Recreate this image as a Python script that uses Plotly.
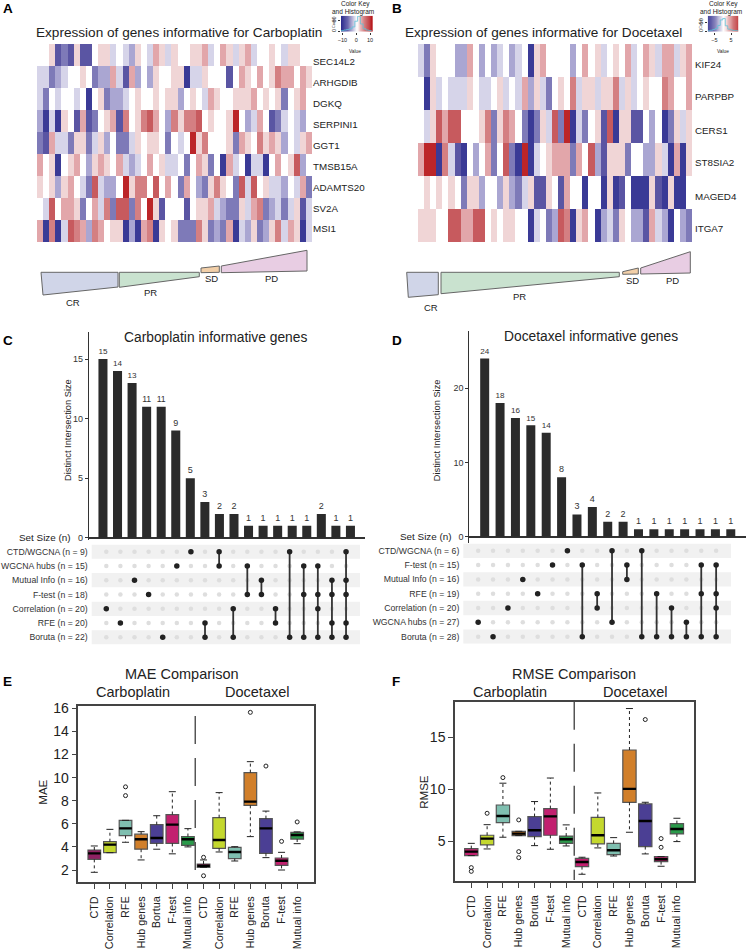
import plotly.graph_objects as go

W, H = 747, 951
FONT = "Liberation Sans"

# ---------- A/B heatmaps (cell levels) ----------
genes_a = ["SEC14L2", "ARHGDIB", "DGKQ", "SERPINI1", "GGT1", "TMSB15A", "ADAMTS20", "SV2A", "MSI1"]
genes_b = ["KIF24", "PARPBP", "CERS1", "ST8SIA2", "MAGED4", "ITGA7"]
sec14l2 = [0,0,1,-4,-3,-4,1,-4,-4,0,1,1,-1,0,-1,-2,1,0,-1,2,1,-1,1,0,0,1,1,2,-1,0,2,1,-1,1,2,-1,0,0,1,0,-1,1,1,0,0]
arhgdib = [-1,-1,-3,-2,-1,0,0,1,0,-3,-2,-2,2,-1,-4,2,-2,0,-2,1,0,0,1,1,-5,-1,-1,1,0,0,0,-4,0,2,1,0,2,0,1,3,2,2,0,2,1]
dgkq = [-1,-3,0,-1,0,0,-1,0,-5,0,1,-3,-2,-2,-1,0,1,0,0,1,0,1,1,-2,0,1,0,-1,2,1,0,0,1,1,1,2,0,1,0,1,-3,0,1,2,0]
serpini1 = [-2,-5,-1,-5,1,0,-4,2,-4,-3,0,1,2,-4,3,0,1,3,4,2,0,-2,3,1,3,3,4,0,1,0,0,1,5,0,-2,-1,2,0,-4,-3,-1,0,-1,-2,0]
ggt1 = [-3,-4,2,-1,-1,-3,1,1,-3,-1,1,-2,0,-3,-3,-1,1,0,1,1,0,-3,0,-1,0,5,1,3,0,0,0,1,-3,2,1,0,3,1,2,1,-2,0,-1,1,2]
tmsb15a = [2,0,1,-5,0,1,2,0,-2,1,2,1,0,2,-1,-2,-1,0,2,0,1,-1,-1,0,-3,0,2,1,-3,0,-5,2,-1,0,-5,-1,-1,-5,0,2,0,1,4,-2,0]
adamts20 = [1,0,1,-2,1,2,0,-1,-3,4,-1,-2,-2,0,5,1,3,3,0,4,0,2,0,-3,2,0,-2,-3,1,3,1,0,-3,4,-1,4,0,1,-1,-1,-2,0,-1,2,-3]
sv2a = [0,-1,4,0,2,2,1,-3,0,2,-1,3,-3,4,4,-3,3,0,5,1,-4,0,0,0,-4,0,1,1,2,-1,-2,-3,-3,1,-1,2,3,-3,-2,-1,-3,-1,1,-4,-1]
msi1 = [2,-5,3,-5,-1,4,3,2,-2,3,2,0,1,1,-5,-2,-5,2,3,-5,1,0,1,-3,-3,-3,3,1,-3,-2,-3,2,-5,-1,-2,1,-3,-2,1,3,-1,2,1,-5,-1]
kif24 = [-1,-3,1,0,0,0,-2,-2,2,0,-2,0,-2,-1,0,-2,-1,0,-5,1,2,0,0,0,0,-2,0,2,0,1,-1,0,1,0,2,-1,0,2,1,-1,2,2,-1,1,2]
parpbp = [0,-5,1,-1,0,-1,-1,-1,1,0,-1,-1,0,1,-1,0,-1,2,-2,1,-1,-3,0,1,0,3,-1,1,1,-1,1,1,3,-1,1,-1,0,1,0,0,3,2,0,0,2]
cers1 = [0,-1,1,4,2,4,4,0,0,0,1,3,-3,1,3,2,0,-3,-5,-3,1,-1,4,-3,5,-5,-1,-3,0,1,-4,4,-5,1,1,-4,-4,0,-2,0,-5,-3,1,-1,1]
st8sia2 = [2,5,5,-5,3,-1,-4,-5,0,-2,0,2,-3,0,4,-3,-5,5,-5,-1,0,1,2,2,2,-3,2,0,4,-2,-4,1,1,1,-3,0,0,-2,-2,1,-1,-5,2,-5,1]
maged4 = [0,1,0,1,0,1,0,-3,1,1,-2,0,0,-2,1,-2,-3,-1,1,-4,-4,1,0,-4,2,0,0,-5,0,0,-5,1,-5,-4,0,-5,-5,-5,1,-4,-5,1,-5,-5,0]
itga7 = [1,1,1,0,0,4,4,2,2,4,4,0,1,0,1,1,0,0,-5,-1,0,-3,-2,4,3,-5,1,2,0,-5,-2,-1,-3,1,0,-2,-2,-4,2,-1,-2,-5,0,-2,-3]
matrix_a = [sec14l2, arhgdib, dgkq, serpini1, ggt1, tmsb15a, adamts20, sv2a, msi1]
matrix_b = [kif24, parpbp, cers1, st8sia2, maged4, itga7]
for row in matrix_a + matrix_b:
    assert len(row) == 45, len(row)
level_colors = ["#3a3a96", "#5a55a3", "#7e7ab8", "#aaa6d2", "#d6d4e9", "#ffffff",
                "#f0d5d6", "#e2a6aa", "#d47f82", "#c75a5e", "#bc2528"]

# colour keys
key_a_x = [-11, -9, -7, -5, -3, -1, 1, 3, 5, 7, 9, 11]
key_a_counts = [4, 7, 10, 14, 24, 55, 82, 40, 14, 7, 4, 2]
key_b_x = [-9, -7.5, -6, -4.5, -3, -1.5, 0, 1.5, 3, 4.5, 6, 7.5, 9]
key_b_counts = [3, 6, 10, 16, 32, 62, 70, 30, 12, 8, 5, 4, 6]
key_stops = [[0, "#2e2e8f"], [0.25, "#7e7ab8"], [0.5, "#ffffff"], [0.75, "#d47f82"], [1, "#b81c20"]]

# response wedges (x, y pairs on the page scale)
wedge_colors = ["#d0d5e8", "#c9e2cf", "#f2cfa8", "#e8cde3"]
wedge_a_x = [[41, 118, 118, 43], [119.3, 199.3, 199.3, 119.3], [201, 219.3, 219.3, 201], [221.3, 307, 307, 221.3]]
wedge_a_y = [[272.3, 272.3, 287, 295], [272.3, 272.3, 276.7, 287.3], [268, 266, 272.3, 272.7], [266, 250.3, 271, 272.7]]
wedge_b_x = [[406.7, 438.3, 438.3, 408.3], [441, 619.3, 619.3, 441], [622.7, 638.3, 638.3, 622.7], [640.7, 690.3, 690.3, 640.7]]
wedge_b_y = [[272.3, 272.3, 294.7, 297.3], [272.3, 272.3, 276.7, 293.7], [271.7, 268, 274, 274.3], [268, 251.7, 273, 274]]

# ---------- C/D upset ----------
sets_c = ["CTD/WGCNA (n = 9)", "WGCNA hubs (n = 15)", "Mutual Info (n = 16)", "F-test (n = 18)",
          "Correlation (n = 20)", "RFE (n = 20)", "Boruta (n = 22)"]
bars_c = [15, 14, 13, 11, 11, 9, 5, 3, 2, 2, 1, 1, 1, 1, 1, 2, 1, 1]
members_c = [[4], [5], [2], [3], [6], [1], [0], [5, 6], [0, 1], [4, 6], [1, 3], [2, 3], [4, 5], [0, 6],
             [1, 3, 6], [1, 3, 4, 6], [2, 3, 5, 6], [0, 2, 3, 5, 6]]
sets_d = ["CTD/WGCNA (n = 6)", "F-test (n = 15)", "Mutual Info (n = 16)", "RFE (n = 19)",
          "Correlation (n = 20)", "WGCNA hubs (n = 27)", "Boruta (n = 28)"]
bars_d = [24, 18, 16, 15, 14, 8, 3, 4, 2, 2, 1, 1, 1, 1, 1, 1, 1]
members_d = [[5], [6], [4], [2], [3], [1], [0], [1, 6], [3, 4], [0, 5], [1, 2], [0, 6], [3, 6], [4, 6],
             [5, 6], [1, 3, 6], [1, 3, 4, 6]]

# ---------- E/F boxes ----------
labels_e = ["CTD", "Correlation", "RFE", "Hub genes", "Bortua", "F-test", "Mutual info",
            "CTD", "Correlation", "RFE", "Hub genes", "Boruta", "F-test", "Mutual info"]
labels_f = ["CTD", "Correlation", "RFE", "Hub genes", "Boruta", "F-test", "Mutual info",
            "CTD", "Correlation", "RFE", "Hub genes", "Boruta", "F-test", "Mutual info"]
colors_e = ["#8f2163", "#c4d82e", "#7fbfb0", "#d17f2a", "#4b3f94", "#c2206f", "#2a9a4a",
            "#c2206f", "#c4d82e", "#7fbfb0", "#d17f2a", "#4b3f94", "#c2206f", "#2a9a4a"]
colors_f = ["#c2206f", "#c4d82e", "#7fbfb0", "#d17f2a", "#4b3f94", "#c2206f", "#2a9a4a",
            "#c2206f", "#c4d82e", "#7fbfb0", "#d17f2a", "#4b3f94", "#c2206f", "#2a9a4a"]
e_lo = [1.8, 3.5, 4.4, 2.87, 3.8, 3.4, 4.0, 2.23, 3.56, 2.78, 4.89, 3.07, 2.0, 4.28]
e_q1 = [2.92, 3.5, 4.97, 3.8, 4.3, 4.3, 4.14, 2.23, 3.88, 2.98, 7.6, 3.44, 2.4, 4.68]
e_med = [3.44, 4.2, 5.6, 4.66, 4.77, 5.93, 4.66, 2.37, 4.6, 3.56, 7.92, 5.6, 2.8, 5.03]
e_q3 = [3.73, 4.45, 6.3, 5.1, 5.93, 6.8, 4.9, 2.52, 6.53, 3.96, 10.43, 6.45, 3.04, 5.26]
e_hi = [4.08, 5.52, 6.3, 5.32, 6.7, 8.78, 5.58, 2.87, 8.7, 4.02, 11.38, 7.1, 3.53, 5.3]
e_out_x = [2, 2, 7, 7, 10, 11, 12, 13]
e_out_y = [9.2, 8.44, 3.1, 1.5, 15.65, 11.0, 4.48, 6.16]
f_lo = [3.62, 4.26, 5.39, 5.55, 4.58, 4.23, 4.55, 1.82, 4.36, 3.58, 5.87, 3.78, 2.59, 4.97]
f_q1 = [3.62, 4.65, 6.8, 5.55, 5.45, 5.58, 4.8, 2.56, 4.74, 3.71, 8.76, 4.49, 3.04, 5.71]
f_med = [4.0, 5.26, 7.44, 5.74, 6.06, 7.4, 5.2, 3.0, 5.58, 4.13, 10.05, 6.96, 3.26, 6.19]
f_q3 = [4.29, 5.58, 8.5, 5.96, 7.38, 8.15, 5.5, 3.36, 7.3, 4.8, 13.8, 8.6, 3.52, 6.7]
f_hi = [4.8, 6.6, 10.6, 5.96, 8.83, 11.1, 6.58, 3.46, 9.66, 5.35, 17.8, 8.76, 3.52, 7.22]
f_out_x = [0, 0, 1, 2, 3, 3, 3, 11, 12, 12]
f_out_y = [2.46, 2.1, 7.7, 11.14, 7.06, 4.0, 3.42, 16.74, 5.26, 4.42]

gene_y_a = [61.7, 82.7, 103.7, 124.3, 145.3, 166, 187, 208, 228.7]
gene_y_b = [64, 96.7, 130, 162.7, 196, 228.7]


def dx(a, b):
    return [a / W, b / W]


def dy(top, bottom):
    return [1 - bottom / H, 1 - top / H]


fig = go.Figure()
layout = {}
annotations = []
n_axes = 0


def new_axes(xdom, ydom, xaxis, yaxis):
    global n_axes
    n_axes += 1
    n = n_axes
    sx = "" if n == 1 else str(n)
    layout["xaxis" + sx] = dict(domain=dx(*xdom), anchor="y" + sx, **xaxis)
    layout["yaxis" + sx] = dict(domain=dy(*ydom), anchor="x" + sx, **yaxis)
    return "x" + sx, "y" + sx


def txt(x, y, s, size, anchor="center", angle=0, bold=False, color="#222"):
    annotations.append(dict(x=x, y=y, xref="x", yref="y", text=("<b>%s</b>" % s) if bold else s,
                            showarrow=False, xanchor=anchor, yanchor="middle", textangle=angle,
                            borderpad=0, font=dict(size=size, color=color, family=FONT)))


OFF = dict(visible=False, showgrid=False, zeroline=False)

# wedges on a page-scale axis pair
xo, yo = new_axes((0, W), (0, H), dict(OFF, range=[0, W]), dict(OFF, range=[H, 0]))
for xs_all, ys_all in ((wedge_a_x, wedge_a_y), (wedge_b_x, wedge_b_y)):
    for xs, ys, c in zip(xs_all, ys_all, wedge_colors):
        fig.add_trace(go.Scatter(x=xs + xs[:1], y=ys + ys[:1], mode="lines", fill="toself", fillcolor=c,
                                 line=dict(color="#666666", width=1), xaxis=xo, yaxis=yo, hoverinfo="skip"))
for x, y, s in [(73, 302, "CR"), (150, 292, "PR"), (211, 278, "SD"), (271, 278, "PD"),
                (431, 307, "CR"), (519, 296, "PR"), (632, 280, "SD"), (672, 280, "PD")]:
    txt(x, y, s, 9.5)

# heatmaps
n_lv = len(level_colors)
step_scale = []
for i, c in enumerate(level_colors):
    step_scale += [[i / n_lv, c], [(i + 1) / n_lv, c]]
for mat, xdom, ydom in ((matrix_a, (37, 312), (44, 242)), (matrix_b, (418, 692), (44, 242))):
    xa, ya = new_axes(xdom, ydom, dict(OFF, range=[-0.5, 44.5]), dict(OFF, range=[len(mat) - 0.5, -0.5]))
    fig.add_trace(go.Heatmap(z=mat, zmin=-5.5, zmax=5.5, colorscale=step_scale, showscale=False,
                             xaxis=xa, yaxis=ya, hoverinfo="skip"))
for g, y in zip(genes_a, gene_y_a):
    txt(312.3, y, g, 9.8, anchor="left")
for g, y in zip(genes_b, gene_y_b):
    txt(694.3, y, g, 9.8, anchor="left")
txt(179, 32, "Expression of genes informative for Carboplatin", 13.6)
txt(543, 32, "Expression of genes informative for Docetaxel", 13.6)

# colour keys
for kx, kc, xdom, xrange_, xticks, yticks, cx in (
        (key_a_x, key_a_counts, (341, 372.7), [-11, 11.9], [-10, 0, 10], [0, 60], 353),
        (key_b_x, key_b_counts, (707.7, 738.3), [-9, 9.3], [-5, 5], [0, 50], 721)):
    small = dict(size=5.5, color="#222", family=FONT)
    xa, ya = new_axes(xdom, (15.7, 31.7),
                      dict(range=xrange_, tickvals=xticks, ticktext=[str(t).replace("-", "\u2212") for t in xticks],
                           ticks="outside", ticklen=2, tickwidth=0.5, tickcolor="#333", tickfont=small,
                           showgrid=False, zeroline=False, showline=False, ticklabelstandoff=1),
                      dict(range=[-2, 85], tickvals=yticks, ticks="outside", ticklen=2, tickwidth=0.5, tickcolor="#333",
                           tickfont=small, tickangle=-90, showgrid=False, zeroline=False, showline=False))
    fig.add_trace(go.Heatmap(z=[kx, kx], x=kx, y=[-2, 85], zmin=-11, zmax=11, colorscale=key_stops, showscale=False,
                             zsmooth="best", xaxis=xa, yaxis=ya, hoverinfo="skip"))
    fig.add_trace(go.Scatter(x=kx, y=kc, mode="lines", line=dict(color="#5fc3d8", width=0.8), line_shape="hv",
                             xaxis=xa, yaxis=ya, hoverinfo="skip"))
    txt(cx + 2, 3.5, "Color Key", 6.5)
    txt(cx, 12, "and Histogram", 6.5)
    txt(cx + 2, 51.7, "Value", 4.8)
    txt(xdom[0] - 7, 23, "Count", 3.8, angle=-90)


# upset panels
def upset(bars, members, sets, bar_x, bar_y, y_rng, x_rng, yticks, mat_x, mat_y, mat_rng, bw):
    xa, ya = new_axes(bar_x, bar_y, dict(OFF, range=x_rng),
                      dict(range=y_rng, tickvals=yticks, ticks="outside", ticklen=3, tickwidth=1, tickcolor="#333",
                           tickfont=dict(size=9, color="#333", family=FONT), showgrid=False,
                           zeroline=True, zerolinecolor="#333", zerolinewidth=1.5,
                           showline=True, linecolor="#333", linewidth=1))
    fig.add_trace(go.Bar(x=list(range(len(bars))), y=bars, width=bw, marker=dict(color="#2b2b2b", line=dict(width=0)),
                         text=bars, textposition="outside", cliponaxis=False,
                         textfont=dict(size=9, color="#333", family=FONT), xaxis=xa, yaxis=ya, hoverinfo="skip"))
    xb, yb = new_axes(mat_x, mat_y, dict(OFF, range=mat_rng),
                      dict(range=[6.5, -0.5], tickvals=list(range(7)), ticktext=sets, ticks="",
                           tickfont=dict(size=8.7, color="#333", family=FONT), showgrid=False, zeroline=False,
                           showline=False, ticklabelstandoff=3))
    for r in (0, 2, 4, 6):
        shapes.append(dict(type="rect", xref=xb + " domain", yref=yb, x0=0, x1=1, y0=r - 0.5, y1=r + 0.5,
                           fillcolor="#f1f1f1", line=dict(width=0), layer="below"))
    gx, gy = [], []
    for i in range(len(bars)):
        for r in range(7):
            gx.append(i)
            gy.append(r)
    fig.add_trace(go.Scatter(x=gx, y=gy, mode="markers", marker=dict(size=4.5, color="#dedede"),
                             xaxis=xb, yaxis=yb, hoverinfo="skip"))
    for i, m in enumerate(members):
        fig.add_trace(go.Scatter(x=[i] * len(m), y=m, mode="lines+markers", line=dict(color="#333", width=1.8),
                                 marker=dict(size=5.5, color="#222"), xaxis=xb, yaxis=yb, hoverinfo="skip"))


shapes = []
upset(bars_c, members_c, sets_c, (88.7, 365), (331.7, 540), [-0.19, 17.3], [-0.98, 18.0], [0, 5, 10, 15],
      (91.7, 360), (544.6, 644.4), [-1.035, 17.99], 0.62)
upset(bars_d, members_d, sets_d, (469.3, 745.7), (331, 543), [-0.85, 27.7], [-1.0, 16.97], [0, 10, 20],
      (463.3, 731), (543.6, 643.8), [-1.0, 17.0], 0.585)
txt(215.7, 337, "Carboplatin informative genes", 13.8)
txt(591, 336, "Docetaxel informative genes", 13.8)
txt(68, 430, "Distinct Intersection Size", 9.3, angle=-90)
txt(437.3, 430, "Distinct Intersection Size", 9.3, angle=-90)
txt(71.6, 537, "Set Size (n)", 9.9, anchor="right")
txt(452.7, 536, "Set Size (n)", 9.9, anchor="right")


# box panels
def boxes(labels, colors, lo, q1, med, q3, hi, ox, oy, xdom, ydom, x_rng, y_rng, yticks, sep, bw, capsize, medsize):
    xa, ya = new_axes(xdom, ydom,
                      dict(range=x_rng, tickvals=list(range(14)), ticktext=labels, tickangle=-90, ticks="outside",
                           ticklen=5, tickwidth=1, tickcolor="#444", tickfont=dict(size=10.8, color="#222", family=FONT),
                           showgrid=False, zeroline=False, showline=True, linecolor="#444", linewidth=1.5, mirror=True,
                           ticklabelstandoff=3),
                      dict(range=y_rng, tickvals=yticks, ticks="outside", ticklen=5, tickwidth=1, tickcolor="#444",
                           tickfont=dict(size=14, color="#222", family=FONT), showgrid=False, zeroline=False,
                           showline=True, linecolor="#444", linewidth=1.5, mirror=True))
    wx, wy = [], []
    for i in range(14):
        wx += [i, i, None, i, i, None]
        wy += [q3[i], hi[i], None, q1[i], lo[i], None]
    fig.add_trace(go.Scatter(x=wx, y=wy, mode="lines", line=dict(color="#222", width=1, dash="3px,3px"),
                             xaxis=xa, yaxis=ya, hoverinfo="skip"))
    fig.add_trace(go.Scatter(x=list(range(14)) * 2, y=lo + hi, mode="markers",
                             marker=dict(symbol="line-ew", size=capsize, line=dict(width=1, color="#222")),
                             xaxis=xa, yaxis=ya, hoverinfo="skip"))
    for i in range(14):
        fig.add_trace(go.Box(x=[i], q1=[q1[i]], median=[med[i]], q3=[q3[i]], lowerfence=[q1[i]], upperfence=[q3[i]],
                             width=bw, fillcolor=colors[i], line=dict(color="#555", width=1.2), boxpoints=False,
                             xaxis=xa, yaxis=ya, hoverinfo="skip"))
    fig.add_trace(go.Scatter(x=list(range(14)), y=med, mode="markers",
                             marker=dict(symbol="line-ew", size=medsize, line=dict(width=2.4, color="#000")),
                             xaxis=xa, yaxis=ya, hoverinfo="skip"))
    fig.add_trace(go.Scatter(x=ox, y=oy, mode="markers", marker=dict(symbol="circle-open", size=4,
                                                                     line=dict(width=1, color="#222"), color="#222"),
                             xaxis=xa, yaxis=ya, hoverinfo="skip"))
    fig.add_trace(go.Scatter(x=[sep[0], sep[0]], y=sep[1:], mode="lines", cliponaxis=False,
                             line=dict(color="#555", width=1.5, dash="28px,14px"), xaxis=xa, yaxis=ya, hoverinfo="skip"))


boxes(labels_e, colors_e, e_lo, e_q1, e_med, e_q3, e_hi, e_out_x, e_out_y, (78.3, 313.7), (706, 882.3),
      [-1.026, 14.06], [0.935, 16.2], [2, 4, 6, 8, 10, 12, 14, 16], (6.47, 15.33, 0.27), 0.81, 5, 9)
boxes(labels_f, colors_f, f_lo, f_q1, f_med, f_q3, f_hi, f_out_x, f_out_y, (455, 694.3), (701.7, 881.3),
      [-1.03, 14.1], [1.14, 18.46], [5, 10, 15], (6.51, 18.46, 1.27), 0.84, 5, 9.4)
txt(181.7, 674, "MAE Comparison", 14.5)
txt(133, 691.7, "Carboplatin", 14.5)
txt(257, 691.7, "Docetaxel", 14.5)
txt(574, 674, "RMSE Comparison", 14.5)
txt(510, 691.7, "Carboplatin", 14.5)
txt(635.3, 691.7, "Docetaxel", 14.5)
txt(42.7, 792, "MAE", 11.5, angle=-90)
txt(423.7, 792, "RMSE", 11.5, angle=-90)

# panel letters
for x, y, s in [(2, 8, "A"), (391, 8, "B"), (2, 340, "C"), (391, 340, "D"), (2, 681, "E"), (391, 681, "F")]:
    txt(x, y, s, 13.5, anchor="left", bold=True, color="#000")

fig.update_layout(width=W, height=H, margin=dict(l=0, r=0, t=0, b=0, autoexpand=False), autosize=False, showlegend=False,
                  paper_bgcolor="white", plot_bgcolor="rgba(0,0,0,0)", annotations=annotations, shapes=shapes,
                  font=dict(family=FONT), boxmode="overlay", **layout)
fig.write_html("out.html", config={"displayModeBar": False},
               post_script="document.body.style.margin='0';document.body.style.overflow='hidden';")
